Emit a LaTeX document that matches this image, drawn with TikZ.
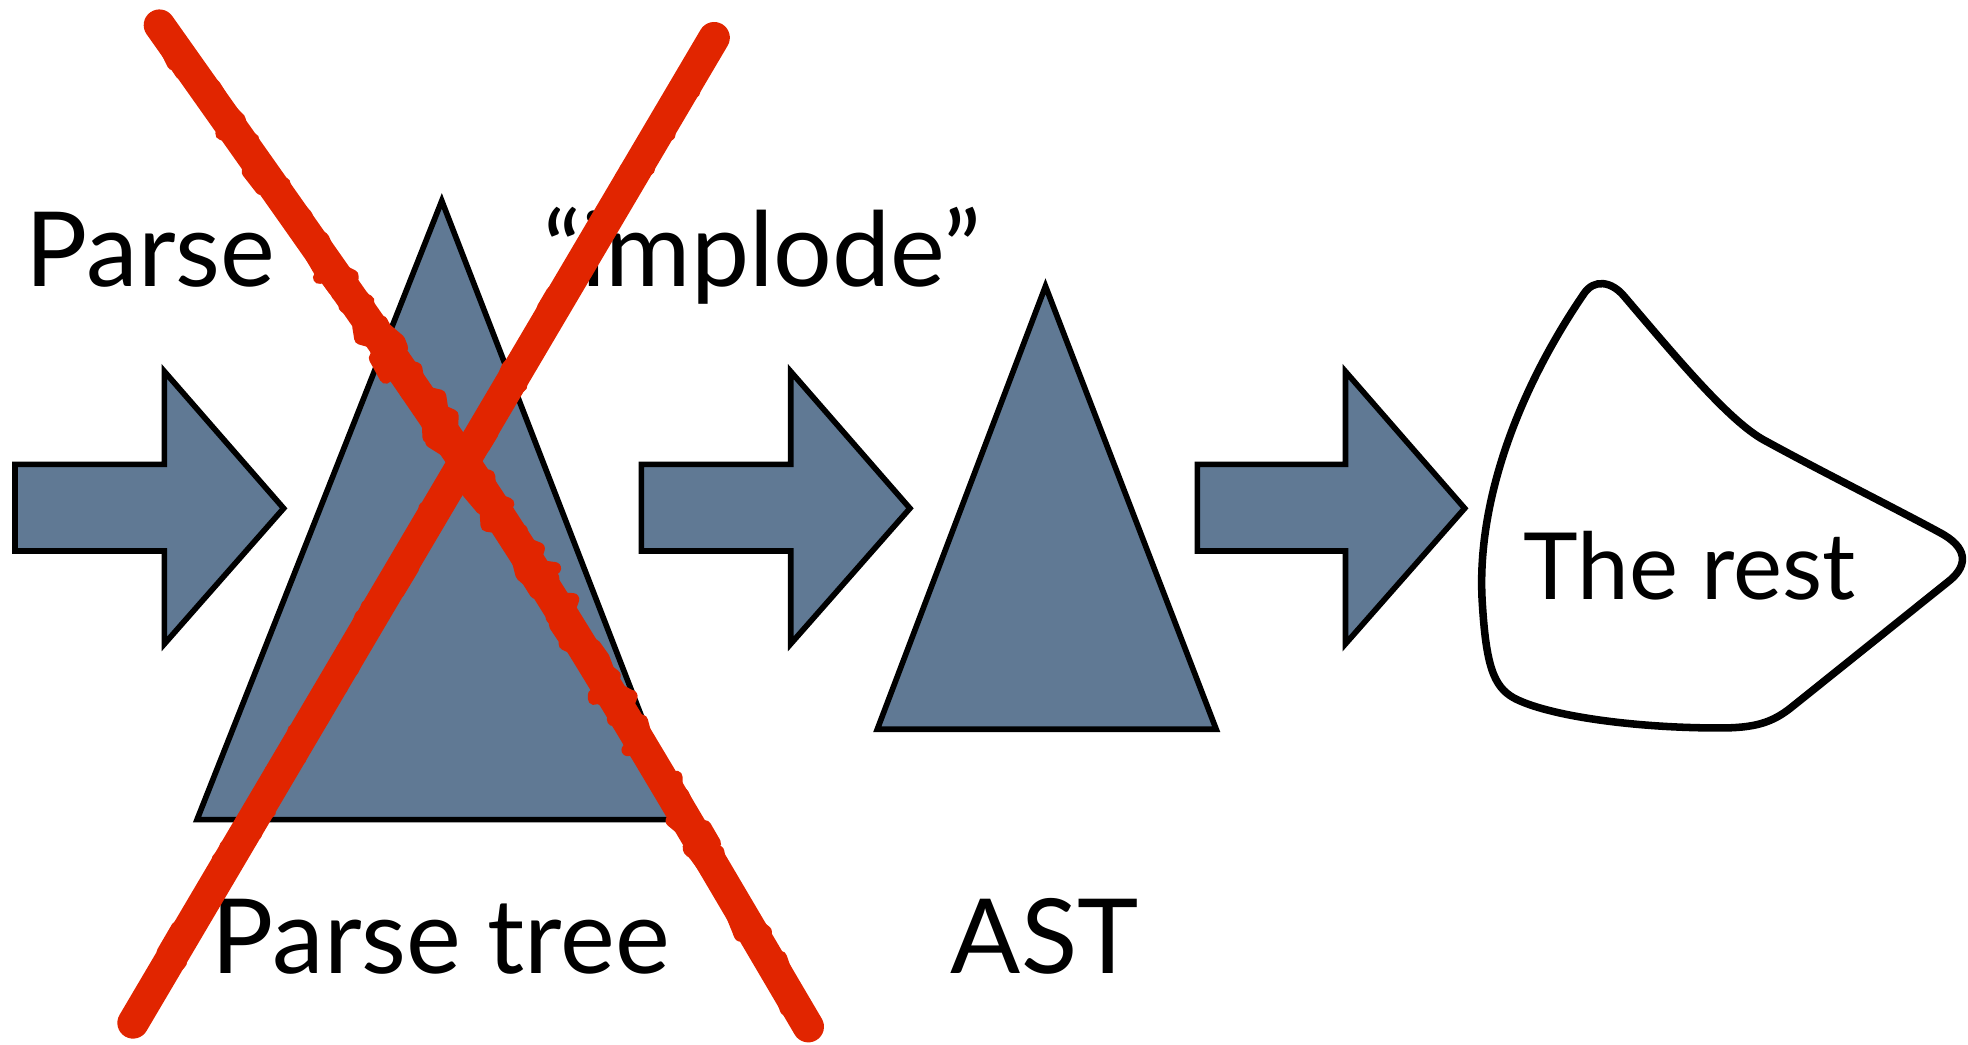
\documentclass[tikz,border=0pt]{standalone}
\usepackage{fontspec}
\setmainfont{Lato}
\usetikzlibrary{decorations.pathmorphing}
\definecolor{slate}{RGB}{96,121,148}
\definecolor{xred}{RGB}{225,37,0}
\tikzset{
  slateshape/.style={fill=slate, draw=black, line width=0.045cm, line join=miter},
  blob/.style={draw=black, fill=white, line width=0.06cm},
  lbl/.style={anchor=base west, inner sep=0pt, font=\fontsize{23.5}{27}\selectfont},
  xstroke/.style={draw=xred, line width=0.25cm, line cap=round},
  xrough/.style={draw=xred, line width=0.1cm, line cap=round, line join=round, decorate,
     decoration={random steps, segment length=2.5pt, amplitude=2.4pt}},
}
\begin{document}
\begin{tikzpicture}[x=0.01cm, y=-0.01cm]
\useasboundingbox (0,0) rectangle (1568,832);
\pgfmathsetseed{11}
% block arrows
\draw[slateshape] (12,370) -- (131,370) -- (131,296) -- (226,405) -- (131,513) -- (131,439) -- (12,439) -- cycle;
\draw[slateshape] (511,370) -- (630,370) -- (630,296) -- (725,405) -- (630,513) -- (630,439) -- (511,439) -- cycle;
\draw[slateshape] (954,370) -- (1072,370) -- (1072,296) -- (1167,405) -- (1072,513) -- (1072,439) -- (954,439) -- cycle;
% triangles
\draw[slateshape] (352,160) -- (543,653) -- (157,653) -- cycle;
\draw[slateshape] (833,228) -- (969,581) -- (699,581) -- cycle;
% blob
\draw[blob] (1262,234) .. controls (1270,222) and (1284,224) .. (1294,236)
  .. controls (1340,290) and (1380,338) .. (1408,352)
  .. controls (1450,375) and (1510,405) .. (1545,424)
  .. controls (1568,436) and (1568,450) .. (1554,462)
  -- (1428,563) .. controls (1412,576) and (1398,580) .. (1370,580)
  .. controls (1300,580) and (1232,570) .. (1206,556)
  .. controls (1190,547) and (1184,530) .. (1181,480)
  .. controls (1176,400) and (1210,310) .. (1262,234) -- cycle;
% labels
\node[lbl] (parse) at (20,228) {Parse};
\node[lbl] (implode) at (432,228) {“implode”};
\node[lbl] (ptree) at (168,776) {Parse tree};
\node[lbl] (ast) at (757,776) {AST};
\node[lbl, font=\fontsize{21}{24}\selectfont] (rest) at (1213,478) {The rest};
% red X
\coordinate (a1) at (127,20);
\coordinate (a2) at (644,818);
\coordinate (b1) at (569,30);
\coordinate (b2) at (106,815);
\draw[xstroke] (a1) .. controls (410,420) .. (a2);
\draw[xstroke] (b1) -- (b2);
\draw[xrough, shift={(8,-5)}] (a1) .. controls (410,420) .. (a2);
\draw[xrough, shift={(-8,5)}] (a1) .. controls (410,420) .. (a2);
\draw[xrough] (a1) .. controls (410,420) .. (a2);
\draw[xrough, shift={(8,5)}] (b1) -- (b2);
\draw[xrough, shift={(-8,-5)}] (b1) -- (b2);
\draw[xrough] (b1) -- (b2);
\end{tikzpicture}
\end{document}
